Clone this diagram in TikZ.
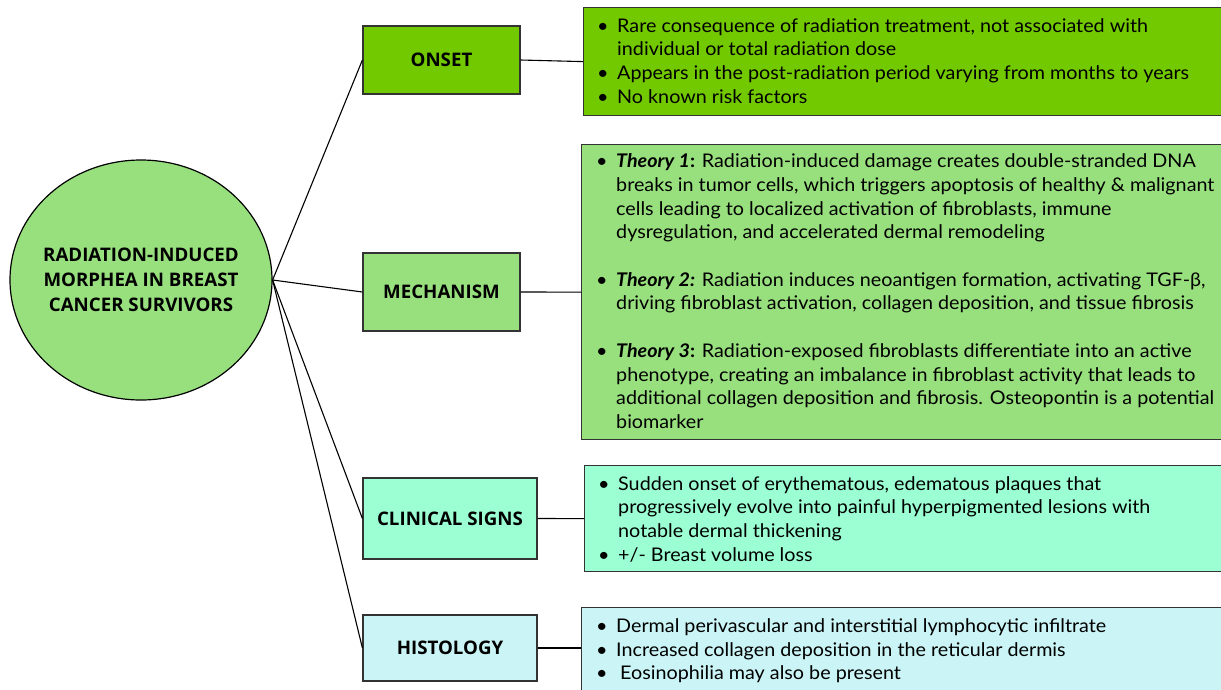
\documentclass[tikz,border=0pt]{standalone}
\usepackage{fontspec}
\setmainfont{Lato}[FakeStretch=1.05]
\newfontfamily\headfont{Open Sans}
\usetikzlibrary{shapes.geometric}

\definecolor{limeG}{HTML}{72C900}
\definecolor{leafG}{HTML}{98E07E}
\definecolor{mintG}{HTML}{9BFFD3}
\definecolor{iceB}{HTML}{CAF4F5}
\definecolor{edgeC}{HTML}{333333}

\tikzset{
  hub/.style={ellipse, draw=black, line width=1.2pt, fill=leafG,
    minimum width=262pt, minimum height=240pt, inner sep=0pt},
  hubtext/.style={align=center, inner sep=0pt,
    font=\headfont\bfseries\fontsize{18.7}{25}\selectfont},
  topic/.style={rectangle, draw=edgeC, line width=1.2pt,
    inner sep=0pt, font=\headfont\bfseries\fontsize{18.7}{22}\selectfont},
  panel/.style={rectangle, draw=edgeC, line width=1.2pt, inner sep=0pt, anchor=north west},
  body/.style={anchor=north west, inner sep=0pt, align=left,
    font=\fontsize{18.8}{23.7}\selectfont},
  link/.style={draw=black, line width=1.1pt}
}
\newcommand{\bl}{\textbullet}

\begin{document}
\begin{tikzpicture}[x=1pt,y=-1pt]
\clip (0,0) rectangle (1221,689);
\fill[white] (0,0) rectangle (1221,689);

% central hub
\node[hub] (root) at (141,280) {};
\node[hubtext] (rootT) at (root.center) {RADIATION-INDUCED\\MORPHEA IN BREAST\\CANCER SURVIVORS};

% topic boxes
\node[topic, fill=limeG, minimum width=157pt, minimum height=68pt] (onset) at (441.5,60) {ONSET};
\node[topic, fill=leafG, minimum width=157pt, minimum height=78pt] (mech) at (441.5,292) {MECHANISM};
\node[topic, fill=mintG, minimum width=174pt, minimum height=81pt] (clin) at (450,518.5) {CLINICAL SIGNS};
\node[topic, fill=iceB, minimum width=174pt, minimum height=66pt] (hist) at (450,648) {HISTOLOGY};

% detail panels
\node[panel, fill=limeG, minimum width=660pt, minimum height=108pt] (onsetD) at (583,7) {};
\node[panel, fill=leafG, minimum width=660pt, minimum height=295pt] (mechD) at (581,144) {};
\node[panel, fill=mintG, minimum width=660pt, minimum height=106pt] (clinD) at (584,465) {};
\node[panel, fill=iceB, minimum width=660pt, minimum height=100pt] (histD) at (581,607) {};

% panel texts
\node[body] (onsetT) at (597,15.5) {%
\begin{tabular}{@{}p{14pt}@{\hspace{6pt}}l@{}}
\bl & Rare consequence of radiation treatment, not associated with\\
    & individual or total radiation dose\\
\bl & Appears in the post-radiation period varying from months to years\\
\bl & No known risk factors
\end{tabular}};

\node[body] (mechT) at (596,151) {%
\begin{tabular}{@{}p{14pt}@{\hspace{6pt}}l@{}}
\bl & \textbf{\textit{Theory 1}:} Radiation-induced damage creates double-stranded DNA\\
    & breaks in tumor cells, which triggers apoptosis of healthy \& malignant\\
    & cells leading to localized activation of fibroblasts, immune\\
    & dysregulation, and accelerated dermal remodeling\\[23.7pt]
\bl & \textbf{\textit{Theory 2:}} Radiation induces neoantigen formation, activating TGF-β,\\
    & driving fibroblast activation, collagen deposition, and tissue fibrosis\\[23.7pt]
\bl & \textbf{\textit{Theory 3}:} Radiation-exposed fibroblasts differentiate into an active\\
    & phenotype, creating an imbalance in fibroblast activity that leads to\\
    & additional collagen deposition and fibrosis. Osteopontin is a potential\\
    & biomarker
\end{tabular}};

\node[body] (clinT) at (598,473.5) {%
\begin{tabular}{@{}p{14pt}@{\hspace{6pt}}l@{}}
\bl & Sudden onset of erythematous, edematous plaques that\\
    & progressively evolve into painful hyperpigmented lesions with\\
    & notable dermal thickening\\
\bl & +/- Breast volume loss
\end{tabular}};

\node[body] (histT) at (596,615.5) {%
\begin{tabular}{@{}p{14pt}@{\hspace{6pt}}l@{}}
\bl & Dermal perivascular and interstitial lymphocytic infiltrate\\
\bl & Increased collagen deposition in the reticular dermis\\
\bl & \hspace{4pt}Eosinophilia may also be present
\end{tabular}};

% connectors
\draw[link] (root.east) -- (onset.west);
\draw[link] (root.east) -- (mech.west);
\draw[link] (root.east) -- (clin.west);
\draw[link] (root.east) -- (hist.west);
\draw[link] (onset.east) -- (onsetD.west);
\draw[link] (mech.east) -- (mechD.west);
\draw[link] (clin.east) -- (clinD.west);
\draw[link] (hist.east) -- (hist.east -| histD.west);
\end{tikzpicture}
\end{document}
